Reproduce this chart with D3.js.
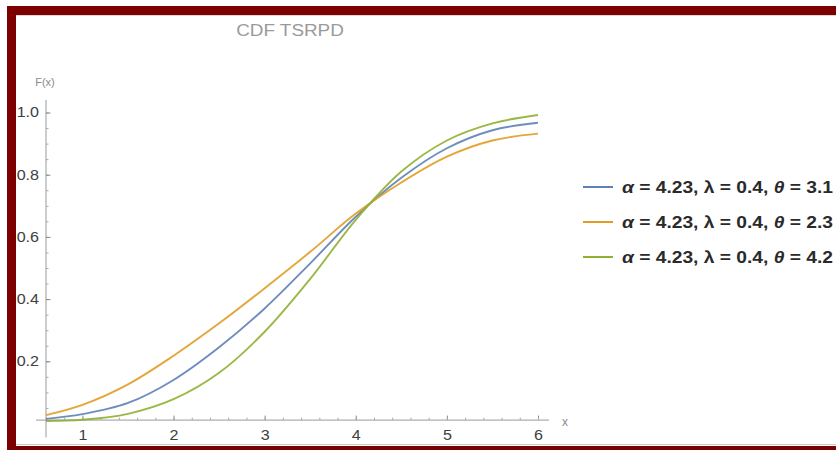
<!DOCTYPE html>
<html>
<head>
<meta charset="utf-8">
<script src="https://cdn.jsdelivr.net/npm/d3@7"></script>
<style>
  body { margin: 0; background: #ffffff; }
  text { font-family: "Liberation Sans", Arial, sans-serif; }
</style>
</head>
<body>
<script>
// values
var xValues = [0.6, 1, 1.5, 2, 2.5, 3, 3.5, 4, 4.5, 5, 5.5, 6];
var blueValues = [0.015, 0.03, 0.066, 0.14, 0.245, 0.37, 0.515, 0.665, 0.79, 0.885, 0.943, 0.967];
var orangeValues = [0.027, 0.06, 0.126, 0.218, 0.322, 0.435, 0.552, 0.675, 0.775, 0.858, 0.91, 0.932];
var greenValues = [0.008, 0.012, 0.031, 0.078, 0.163, 0.295, 0.465, 0.655, 0.81, 0.91, 0.965, 0.992];
var thetas = ["3.1", "2.3", "4.2"];
var xTicks = [1, 2, 3, 4, 5, 6];
var yTicks = [0.2, 0.4, 0.6, 0.8, 1.0];

var colors = ["#5e81b5", "#e19c24", "#8fb032"];
var series = [blueValues, orangeValues, greenValues];

var width = 836, height = 450;

var svg = d3.select("body").append("svg")
            .attr("width", width)
            .attr("height", height);

var x = d3.scaleLinear().domain([0.6, 6]).range([46, 538]);
var y = d3.scaleLinear().domain([0, 1]).range([423.5, 112.5]);
var axisY = 0.011; // where Mathematica put the x axis

// stretch text a bit sideways, the picture is wider than it is tall
function stretch(sel, k) {
  sel.each(function() {
    var w = this.getComputedTextLength();
    d3.select(this).attr("textLength", w * k).attr("lengthAdjust", "spacingAndGlyphs");
  });
}

// title
svg.append("text")
   .attr("x", 290)
   .attr("y", 36)
   .attr("text-anchor", "middle")
   .attr("font-size", 16)
   .attr("fill", "#9a9a9a")
   .text("CDF TSRPD")
   .call(stretch, 1.18);

// x axis, ticks point up
var gx = svg.append("g").attr("transform", "translate(0," + y(axisY) + ")");
gx.append("line")
  .attr("x1", x(0.49)).attr("x2", x(6.12))
  .attr("stroke", "#9a9a9a").attr("stroke-width", 1);
var xMinor = svg.append("g")
  .attr("transform", "translate(0," + y(axisY) + ")")
  .call(d3.axisBottom(x).tickValues(d3.range(0.6, 6.01, 0.2)).tickSizeInner(-2.5).tickSizeOuter(0).tickFormat(""));
xMinor.select(".domain").remove();
xMinor.selectAll("line").attr("stroke", "#aaaaaa");
var xMajor = gx.append("g")
  .call(d3.axisBottom(x).tickValues(xTicks).tickSizeInner(-4.5).tickSizeOuter(0).tickPadding(10).tickFormat(d3.format("d")));
xMajor.select(".domain").remove();
xMajor.selectAll("line").attr("stroke", "#888888");
xMajor.selectAll("text").attr("font-size", 14).attr("fill", "#404040")
  .call(stretch, 1.15);

// y axis, ticks point right
var gy = svg.append("g").attr("transform", "translate(" + x(0.6) + ",0)");
gy.append("line")
  .attr("y1", y(-0.045)).attr("y2", y(1.04))
  .attr("stroke", "#9a9a9a").attr("stroke-width", 1);
var yMinor = gy.append("g")
  .call(d3.axisLeft(y).tickValues(d3.range(0.05, 1.04, 0.05)).tickSizeInner(-2.5).tickSizeOuter(0).tickFormat(""));
yMinor.select(".domain").remove();
yMinor.selectAll("line").attr("stroke", "#aaaaaa");
var yMajor = gy.append("g")
  .call(d3.axisLeft(y).tickValues(yTicks).tickSizeInner(-4.5).tickSizeOuter(0).tickPadding(7).tickFormat(d3.format(".1f")));
yMajor.select(".domain").remove();
yMajor.selectAll("line").attr("stroke", "#888888");
yMajor.selectAll("text").attr("font-size", 14).attr("fill", "#404040")
  .call(stretch, 1.15);

// axis names
svg.append("text")
   .attr("x", 45).attr("y", 86)
   .attr("text-anchor", "middle")
   .attr("font-size", 11)
   .attr("fill", "#8a8a8a")
   .text("F(x)");
svg.append("text")
   .attr("x", 565).attr("y", 426)
   .attr("text-anchor", "middle")
   .attr("font-size", 12)
   .attr("fill", "#8a8a8a")
   .text("x");

// the three cdf curves
var line = d3.line()
             .x(function(d, i) { return x(xValues[i]); })
             .y(function(d) { return y(d); })
             .curve(d3.curveCatmullRom.alpha(0.5));

series.forEach(function(vals, k) {
  svg.append("path")
     .attr("d", line(vals))
     .attr("fill", "none")
     .attr("stroke", colors[k])
     .attr("stroke-width", 1.9)
     .attr("stroke-opacity", 0.9);
});

// legend
var legendY = [187, 222, 257];
thetas.forEach(function(t, k) {
  svg.append("line")
     .attr("x1", 583).attr("x2", 613)
     .attr("y1", legendY[k]).attr("y2", legendY[k])
     .attr("stroke", colors[k])
     .attr("stroke-width", 2);
  var txt = svg.append("text")
     .attr("x", 622)
     .attr("y", legendY[k] + 6)
     .attr("font-size", 16)
     .attr("font-weight", "bold")
     .attr("fill", "#2a2a2a");
  txt.append("tspan").attr("font-style", "italic").text("α");
  txt.append("tspan").text(" = 4.23, ");
  txt.append("tspan").text("λ");
  txt.append("tspan").text(" = 0.4, ");
  txt.append("tspan").attr("font-style", "italic").text("θ");
  txt.append("tspan").text(" = " + t);
  txt.attr("textLength", 211).attr("lengthAdjust", "spacingAndGlyphs");
});

// dark red frame on top, left and bottom
svg.append("rect")
   .attr("x", 7).attr("y", 6)
   .attr("width", width - 7).attr("height", 9)
   .attr("fill", "#7d0000");
svg.append("rect")
   .attr("x", 7).attr("y", 6)
   .attr("width", 9).attr("height", height - 6)
   .attr("fill", "#7d0000");
svg.append("rect")
   .attr("x", 7).attr("y", 446)
   .attr("width", width - 7).attr("height", 4)
   .attr("fill", "#7d0000");
svg.append("line")
   .attr("x1", 16).attr("x2", width)
   .attr("y1", 444.5).attr("y2", 444.5)
   .attr("stroke", "#cccccc");
svg.append("line")
   .attr("x1", 16).attr("x2", width)
   .attr("y1", 15.5).attr("y2", 15.5)
   .attr("stroke", "#d8d8d8");
</script>
</body>
</html>
